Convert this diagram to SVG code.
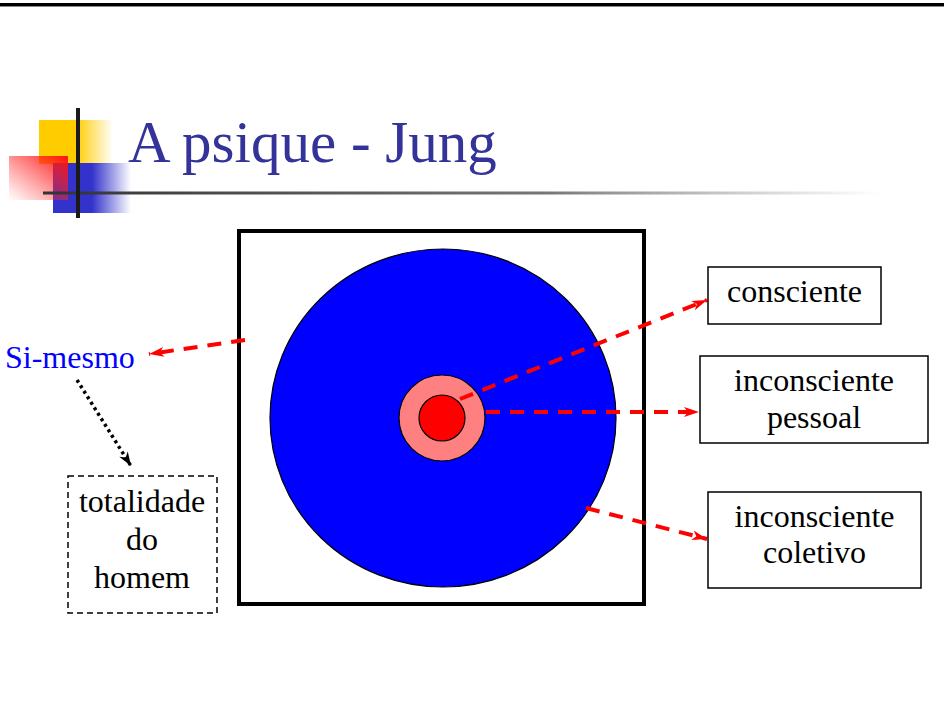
<svg xmlns="http://www.w3.org/2000/svg" width="944" height="717" viewBox="0 0 944 717">
<defs>
<linearGradient id="gY" x1="0" y1="0" x2="1" y2="0"><stop offset="0" stop-color="#FFCC00"/><stop offset="0.5" stop-color="#FFCC00"/><stop offset="1" stop-color="#FFCC00" stop-opacity="0"/></linearGradient>
<linearGradient id="gB" x1="0" y1="0" x2="1" y2="0"><stop offset="0" stop-color="#3333CC"/><stop offset="0.5" stop-color="#3333CC"/><stop offset="1" stop-color="#3333CC" stop-opacity="0"/></linearGradient>
<linearGradient id="gR" x1="1" y1="0" x2="0" y2="1"><stop offset="0" stop-color="#FF1111"/><stop offset="1" stop-color="#FF3333" stop-opacity="0"/></linearGradient>
<linearGradient id="gL" x1="0" y1="0" x2="1" y2="0"><stop offset="0" stop-color="#333333"/><stop offset="0.6" stop-color="#777777"/><stop offset="1" stop-color="#999999" stop-opacity="0"/></linearGradient>
<marker id="ar" markerUnits="userSpaceOnUse" markerWidth="20" markerHeight="14" refX="0" refY="0" viewBox="-16 -7 17 14" orient="auto"><path d="M0,0 L-15,-5 L-11,0 L-15,5 Z" fill="#FF0000"/></marker>
<marker id="ak" markerUnits="userSpaceOnUse" markerWidth="20" markerHeight="14" refX="0" refY="0" viewBox="-16 -7 17 14" orient="auto"><path d="M0,0 L-14,-5 L-10,0 L-14,5 Z" fill="#000"/></marker>
</defs>
<style>
.t{font-family:"Liberation Serif","Times New Roman",serif;font-size:32px;fill:#000;text-anchor:middle}
.box{fill:#fff;stroke:#000;stroke-width:1.5}
.rd{fill:none;stroke:#FF0000;stroke-width:4;stroke-dasharray:14 10}
</style>
<rect x="0" y="3" width="944" height="3" fill="#000"/>
<rect x="0" y="6" width="944" height="1" fill="#888"/>
<g id="logo">
<rect x="39" y="120" width="74" height="44" fill="url(#gY)"/>
<rect x="53" y="163" width="78" height="50" fill="url(#gB)"/>
<rect x="9" y="156" width="59" height="44" fill="url(#gR)"/>
<rect x="43" y="191.5" width="840" height="3" fill="url(#gL)"/>
<rect x="76" y="108" width="4" height="110" fill="#1a1a1a"/>
</g>
<text id="title" x="128" y="162" style="font-family:'Liberation Serif','Times New Roman',serif;font-size:59px;fill:#333399">A psique - Jung</text>
<g id="psyche">
<rect x="239" y="231" width="405" height="373" fill="#fff" stroke="#000" stroke-width="4"/>
<ellipse cx="443" cy="418" rx="173" ry="169" fill="#0000FF" stroke="#000" stroke-width="1.2"/>
<circle cx="442" cy="418" r="43" fill="#FF8080" stroke="#000" stroke-width="1.2"/>
<circle cx="442" cy="418" r="23" fill="#FF0000" stroke="#000" stroke-width="1.2"/>
</g>
<g id="connectors">
<line class="rd" x1="460" y1="399" x2="707" y2="300" marker-end="url(#ar)"/>
<line class="rd" x1="486" y1="412" x2="699" y2="412" marker-end="url(#ar)"/>
<line class="rd" x1="586" y1="508" x2="707" y2="539" marker-end="url(#ar)"/>
<line class="rd" x1="245" y1="340" x2="149" y2="354" marker-end="url(#ar)"/>
<line x1="77" y1="380" x2="131" y2="466" stroke="#000" stroke-width="3.5" stroke-dasharray="3 3.5" marker-end="url(#ak)"/>
</g>
<g id="consciente">
<rect class="box" x="708" y="267" width="173" height="57"/>
<text class="t" x="794.5" y="302">consciente</text>
</g>
<g id="inconsciente-pessoal">
<rect class="box" x="700" y="356" width="228" height="87"/>
<text class="t" x="814" y="391">inconsciente</text>
<text class="t" x="814" y="428">pessoal</text>
</g>
<g id="inconsciente-coletivo">
<rect class="box" x="708" y="492" width="213" height="96"/>
<text class="t" x="814.5" y="527">inconsciente</text>
<text class="t" x="814.5" y="563">coletivo</text>
</g>
<g id="si-mesmo">
<text x="5" y="368" style="font-family:'Liberation Serif','Times New Roman',serif;font-size:32px;fill:#0000FF">Si-mesmo</text>
</g>
<g id="totalidade">
<rect x="68" y="476" width="149" height="137" fill="none" stroke="#000" stroke-width="1.5" stroke-dasharray="6 4"/>
<text class="t" x="142" y="512">totalidade</text>
<text class="t" x="142" y="550">do</text>
<text class="t" x="142" y="588">homem</text>
</g>
</svg>
